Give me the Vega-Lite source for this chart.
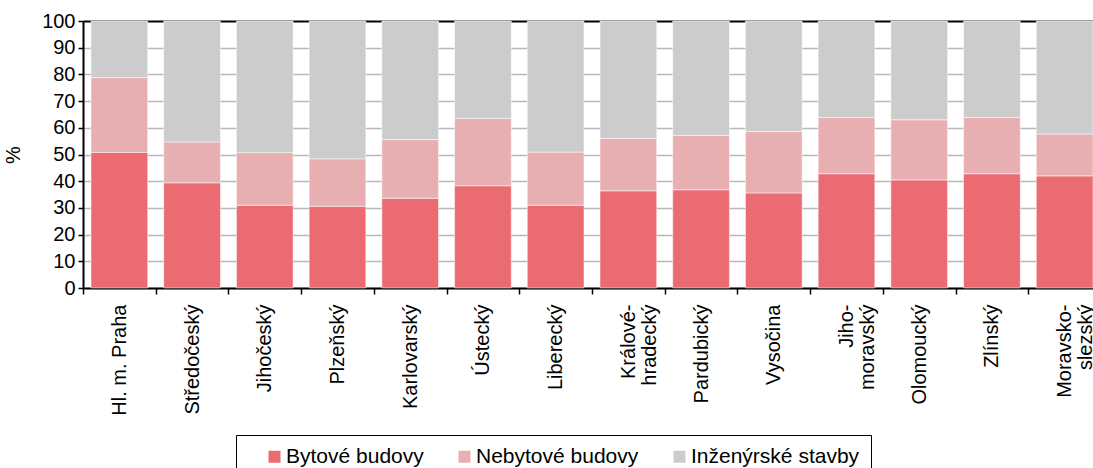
{
  "$schema": "https://vega.github.io/schema/vega-lite/v6.json",
  "autosize": {"type": "none"},
  "padding": {"left": 83, "top": 21, "right": -8, "bottom": 180},
  "width": 1018,
  "height": 267,
  "config": {
    "view": {"stroke": null},
    "font": "Liberation Sans",
    "axis": {"labelFont": "Liberation Sans", "titleFont": "Liberation Sans", "labelColor": "#000000", "titleColor": "#000000"}
  },
  "data": {
    "values": [
      {"kraj": "Hl. m. Praha", "typ": "Bytové budovy", "poradi": 1, "hodnota": 50.8},
      {"kraj": "Hl. m. Praha", "typ": "Nebytové budovy", "poradi": 2, "hodnota": 28.0},
      {"kraj": "Hl. m. Praha", "typ": "Inženýrské stavby", "poradi": 3, "hodnota": 21.2},
      {"kraj": "Středočeský", "typ": "Bytové budovy", "poradi": 1, "hodnota": 39.4},
      {"kraj": "Středočeský", "typ": "Nebytové budovy", "poradi": 2, "hodnota": 15.3},
      {"kraj": "Středočeský", "typ": "Inženýrské stavby", "poradi": 3, "hodnota": 45.3},
      {"kraj": "Jihočeský", "typ": "Bytové budovy", "poradi": 1, "hodnota": 31.0},
      {"kraj": "Jihočeský", "typ": "Nebytové budovy", "poradi": 2, "hodnota": 19.7},
      {"kraj": "Jihočeský", "typ": "Inženýrské stavby", "poradi": 3, "hodnota": 49.3},
      {"kraj": "Plzeňský", "typ": "Bytové budovy", "poradi": 1, "hodnota": 30.6},
      {"kraj": "Plzeňský", "typ": "Nebytové budovy", "poradi": 2, "hodnota": 17.8},
      {"kraj": "Plzeňský", "typ": "Inženýrské stavby", "poradi": 3, "hodnota": 51.6},
      {"kraj": "Karlovarský", "typ": "Bytové budovy", "poradi": 1, "hodnota": 33.6},
      {"kraj": "Karlovarský", "typ": "Nebytové budovy", "poradi": 2, "hodnota": 22.0},
      {"kraj": "Karlovarský", "typ": "Inženýrské stavby", "poradi": 3, "hodnota": 44.4},
      {"kraj": "Ústecký", "typ": "Bytové budovy", "poradi": 1, "hodnota": 38.3},
      {"kraj": "Ústecký", "typ": "Nebytové budovy", "poradi": 2, "hodnota": 25.2},
      {"kraj": "Ústecký", "typ": "Inženýrské stavby", "poradi": 3, "hodnota": 36.5},
      {"kraj": "Liberecký", "typ": "Bytové budovy", "poradi": 1, "hodnota": 31.0},
      {"kraj": "Liberecký", "typ": "Nebytové budovy", "poradi": 2, "hodnota": 19.9},
      {"kraj": "Liberecký", "typ": "Inženýrské stavby", "poradi": 3, "hodnota": 49.1},
      {"kraj": "Králové-|hradecký", "typ": "Bytové budovy", "poradi": 1, "hodnota": 36.4},
      {"kraj": "Králové-|hradecký", "typ": "Nebytové budovy", "poradi": 2, "hodnota": 19.6},
      {"kraj": "Králové-|hradecký", "typ": "Inženýrské stavby", "poradi": 3, "hodnota": 44.0},
      {"kraj": "Pardubický", "typ": "Bytové budovy", "poradi": 1, "hodnota": 36.8},
      {"kraj": "Pardubický", "typ": "Nebytové budovy", "poradi": 2, "hodnota": 20.3},
      {"kraj": "Pardubický", "typ": "Inženýrské stavby", "poradi": 3, "hodnota": 42.9},
      {"kraj": "Vysočina", "typ": "Bytové budovy", "poradi": 1, "hodnota": 35.6},
      {"kraj": "Vysočina", "typ": "Nebytové budovy", "poradi": 2, "hodnota": 23.0},
      {"kraj": "Vysočina", "typ": "Inženýrské stavby", "poradi": 3, "hodnota": 41.4},
      {"kraj": "Jiho-|moravský", "typ": "Bytové budovy", "poradi": 1, "hodnota": 42.8},
      {"kraj": "Jiho-|moravský", "typ": "Nebytové budovy", "poradi": 2, "hodnota": 21.1},
      {"kraj": "Jiho-|moravský", "typ": "Inženýrské stavby", "poradi": 3, "hodnota": 36.1},
      {"kraj": "Olomoucký", "typ": "Bytové budovy", "poradi": 1, "hodnota": 40.5},
      {"kraj": "Olomoucký", "typ": "Nebytové budovy", "poradi": 2, "hodnota": 22.5},
      {"kraj": "Olomoucký", "typ": "Inženýrské stavby", "poradi": 3, "hodnota": 37.0},
      {"kraj": "Zlínský", "typ": "Bytové budovy", "poradi": 1, "hodnota": 42.8},
      {"kraj": "Zlínský", "typ": "Nebytové budovy", "poradi": 2, "hodnota": 21.1},
      {"kraj": "Zlínský", "typ": "Inženýrské stavby", "poradi": 3, "hodnota": 36.1},
      {"kraj": "Moravsko-|slezský", "typ": "Bytové budovy", "poradi": 1, "hodnota": 42.0},
      {"kraj": "Moravsko-|slezský", "typ": "Nebytové budovy", "poradi": 2, "hodnota": 15.7},
      {"kraj": "Moravsko-|slezský", "typ": "Inženýrské stavby", "poradi": 3, "hodnota": 42.3}
    ]
  },
  "mark": {"type": "bar", "stroke": "#ffffff", "strokeWidth": 0.5},
  "encoding": {
    "x": {
      "field": "kraj",
      "type": "nominal",
      "sort": null,
      "scale": {"paddingInner": 0.22, "paddingOuter": 0.11},
      "axis": {
        "title": null,
        "labelAngle": -90,
        "labelAlign": "right",
        "labelBaseline": "middle",
        "labelExpr": "split(datum.value, '|')",
        "labelFontSize": 20,
        "labelLineHeight": 21,
        "labelPadding": 10,
        "labelOverlap": false,
        "labelLimit": 300,
        "tickOffset": -36.357,
        "labelOffset": 36.357,
        "tickSize": 6,
        "tickColor": "#000000",
        "tickWidth": 1.5,
        "domainColor": "#000000",
        "domainWidth": 2,
        "grid": false
      }
    },
    "y": {
      "field": "hodnota",
      "type": "quantitative",
      "stack": "zero",
      "scale": {"domain": [0, 100], "nice": false, "zero": true},
      "axis": {
        "title": "%",
        "titleFontSize": 20,
        "titleFontWeight": "normal",
        "titlePadding": 18,
        "values": [0, 10, 20, 30, 40, 50, 60, 70, 80, 90, 100],
        "labelFontSize": 20,
        "labelPadding": 3,
        "labelOverlap": false,
        "labelFlush": false,
        "tickSize": 5,
        "tickColor": "#000000",
        "tickWidth": 1.5,
        "domainColor": "#000000",
        "domainWidth": 2,
        "grid": true,
        "gridColor": {"condition": {"test": "datum.value === 100", "value": "#000000"}, "value": "#b8b8b8"},
        "gridWidth": {"condition": {"test": "datum.value === 100", "value": 2}, "value": 1.5}
      }
    },
    "color": {
      "field": "typ",
      "type": "nominal",
      "scale": {
        "domain": ["Bytové budovy", "Nebytové budovy", "Inženýrské stavby"],
        "range": ["#eb6b73", "#e8afb2", "#cccccc"]
      },
      "legend": {
        "title": null,
        "orient": "none",
        "legendX": 153,
        "legendY": 414,
        "direction": "horizontal",
        "columns": 3,
        "symbolType": "square",
        "symbolSize": 144,
        "symbolStrokeWidth": 0,
        "labelFontSize": 21,
        "labelFont": "Liberation Sans",
        "labelColor": "#000000",
        "labelOffset": 1,
        "columnPadding": 13,
        "padding": 11,
        "symbolOffset": 17,
        "strokeColor": "#000000",
        "labelLimit": 400
      }
    },
    "order": {"field": "poradi", "type": "quantitative"}
  }
}
